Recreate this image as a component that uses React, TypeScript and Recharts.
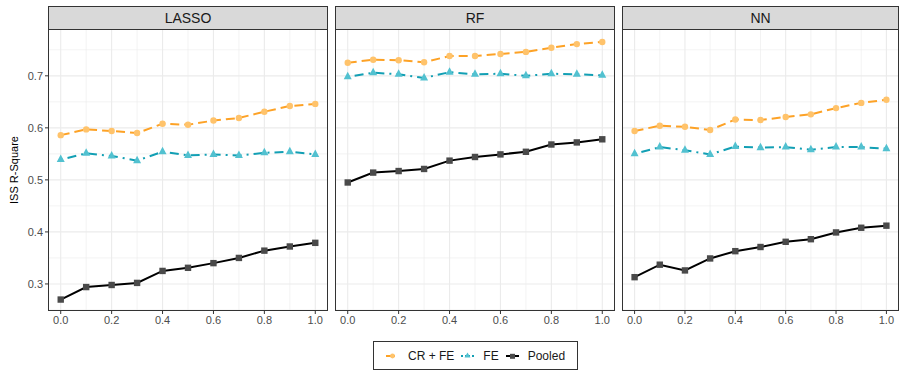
import { CartesianGrid, Line, LineChart, XAxis, YAxis } from "recharts"

// shrinkage weight on the x axis
const weights = [0, 0.1, 0.2, 0.3, 0.4, 0.5, 0.6, 0.7, 0.8, 0.9, 1.0]

const lassoCrFe = [0.586, 0.597, 0.594, 0.590, 0.608, 0.606, 0.614, 0.619, 0.631, 0.642, 0.646]
const lassoFe = [0.539, 0.551, 0.546, 0.537, 0.554, 0.547, 0.549, 0.547, 0.552, 0.554, 0.549]
const lassoPooled = [0.270, 0.294, 0.298, 0.302, 0.325, 0.331, 0.340, 0.350, 0.364, 0.372, 0.379]

const rfCrFe = [0.725, 0.731, 0.730, 0.726, 0.738, 0.738, 0.742, 0.746, 0.754, 0.761, 0.765]
const rfFe = [0.698, 0.706, 0.703, 0.696, 0.707, 0.703, 0.704, 0.700, 0.704, 0.703, 0.701]
const rfPooled = [0.495, 0.514, 0.517, 0.521, 0.537, 0.544, 0.549, 0.554, 0.568, 0.572, 0.578]

const nnCrFe = [0.594, 0.604, 0.602, 0.596, 0.616, 0.615, 0.621, 0.626, 0.638, 0.648, 0.654]
const nnFe = [0.550, 0.563, 0.557, 0.549, 0.564, 0.562, 0.563, 0.558, 0.563, 0.563, 0.560]
const nnPooled = [0.313, 0.337, 0.326, 0.349, 0.363, 0.371, 0.381, 0.386, 0.399, 0.408, 0.412]

const xTicks = [0, 0.2, 0.4, 0.6, 0.8, 1.0]
const xMinor = [0.1, 0.3, 0.5, 0.7, 0.9]
const yTicks = [0.3, 0.4, 0.5, 0.6, 0.7]
const yMinor = [0.25, 0.35, 0.45, 0.55, 0.65, 0.75]

const ORANGE = "#FDA226"
const ORANGE_PT = "#FFC36B"
const TEAL = "#129FB4"
const TEAL_PT = "#52C1D0"
const BLACK = "#000000"
const GREY_PT = "#4A4A4A"

const FONT = "'Liberation Sans', Arial, Helvetica, sans-serif"

const X_DOMAIN = [-0.05, 1.05]
const Y_DOMAIN = [0.248, 0.79]

const PLOT_TOP = 29
const PLOT_BOTTOM = 311
const CHART_H = 340

const buildRows = (cr: number[], fe: number[], pooled: number[]) =>
  weights.map((w, i) => ({ w, cr: cr[i], fe: fe[i], pooled: pooled[i] }))

const panels = [
  { name: "LASSO", left: 48, right: 328, rows: buildRows(lassoCrFe, lassoFe, lassoPooled) },
  { name: "RF", left: 335, right: 615, rows: buildRows(rfCrFe, rfFe, rfPooled) },
  { name: "NN", left: 622, right: 899, rows: buildRows(nnCrFe, nnFe, nnPooled) },
]

const CircleDot = (props: any) => {
  const { cx, cy } = props
  if (cx == null || cy == null) return null
  return <circle cx={cx} cy={cy} r={3.2} fill={ORANGE_PT} />
}

const TriangleDot = (props: any) => {
  const { cx, cy } = props
  if (cx == null || cy == null) return null
  const s = 4
  return <polygon points={`${cx},${cy - s - 1} ${cx - s},${cy + s - 1.5} ${cx + s},${cy + s - 1.5}`} fill={TEAL_PT} />
}

const SquareDot = (props: any) => {
  const { cx, cy } = props
  if (cx == null || cy == null) return null
  return <rect x={cx - 3.2} y={cy - 3.2} width={6.4} height={6.4} fill={GREY_PT} />
}

const tickStyle = { fontSize: 11, fill: "#4D4D4D", fontFamily: FONT }

function Panel({ name, left, right, rows, showY }: any) {
  const yAxisW = showY ? 48 : 0
  const chartLeft = left - yAxisW
  const width = right - chartLeft
  return (
    <>
      <div
        style={{
          position: "absolute",
          left,
          top: 6,
          width: right - left,
          height: PLOT_TOP - 6,
          boxSizing: "border-box",
          background: "#D9D9D9",
          border: "1px solid #333333",
          borderBottom: "none",
          fontFamily: FONT,
          fontSize: 14,
          color: "#1A1A1A",
          textAlign: "center",
          lineHeight: `${PLOT_TOP - 7}px`,
        }}
      >
        {name}
      </div>
      <div style={{ position: "absolute", left: chartLeft, top: 0 }}>
        <LineChart
          width={width}
          height={CHART_H}
          data={rows}
          margin={{ top: PLOT_TOP, right: 0, bottom: CHART_H - PLOT_BOTTOM - 20, left: 0 }}
        >
          <CartesianGrid
            stroke="#EBEBEB"
            strokeWidth={0.6}
            horizontalValues={yMinor}
            verticalValues={xMinor}
          />
          <CartesianGrid
            stroke="#EBEBEB"
            strokeWidth={1.1}
            horizontalValues={yTicks}
            verticalValues={xTicks}
          />
          <XAxis
            dataKey="w"
            type="number"
            domain={X_DOMAIN}
            ticks={xTicks}
            allowDataOverflow
            tickFormatter={(v: number) => v.toFixed(1)}
            tick={tickStyle}
            tickSize={3}
            tickMargin={2}
            axisLine={false}
            tickLine={{ stroke: "#333333" }}
            height={20}
          />
          <YAxis
            type="number"
            domain={Y_DOMAIN}
            ticks={yTicks}
            allowDataOverflow
            hide={!showY}
            width={yAxisW}
            tickFormatter={(v: number) => v.toFixed(1)}
            tick={tickStyle}
            tickSize={3}
            tickMargin={2}
            axisLine={false}
            tickLine={{ stroke: "#333333" }}
            label={
              showY
                ? {
                    value: "ISS R-Square",
                    angle: -90,
                    position: "insideLeft",
                    offset: 14,
                    style: { textAnchor: "middle", fontSize: 11, fill: "#000", fontFamily: FONT },
                  }
                : undefined
            }
          />
          <Line
            dataKey="pooled"
            type="linear"
            stroke={BLACK}
            strokeWidth={2}
            dot={<SquareDot />}
            isAnimationActive={false}
          />
          <Line
            dataKey="fe"
            type="linear"
            stroke={TEAL}
            strokeWidth={2}
            strokeDasharray="2 5 9 5"
            dot={<TriangleDot />}
            isAnimationActive={false}
          />
          <Line
            dataKey="cr"
            type="linear"
            stroke={ORANGE}
            strokeWidth={2}
            strokeDasharray="9 5"
            dot={<CircleDot />}
            isAnimationActive={false}
          />
        </LineChart>
      </div>
      <div
        style={{
          position: "absolute",
          left,
          top: PLOT_TOP,
          width: right - left,
          height: PLOT_BOTTOM - PLOT_TOP,
          boxSizing: "border-box",
          border: "1px solid #333333",
          pointerEvents: "none",
        }}
      />
    </>
  )
}

const legendItems = [
  { label: "CR + FE", color: ORANGE, dash: "9 5", marker: "circle" },
  { label: "FE", color: TEAL, dash: "2 2 5 2", marker: "triangle" },
  { label: "Pooled", color: BLACK, dash: undefined, marker: "square" },
]

function LegendKey({ color, dash, marker }: any) {
  return (
    <svg width={17} height={14} style={{ display: "block" }}>
      <line x1={2} x2={15} y1={7} y2={7} stroke={color} strokeWidth={2} strokeDasharray={dash} />
      {marker === "circle" && <circle cx={8.5} cy={7} r={2.4} fill={ORANGE_PT} />}
      {marker === "triangle" && <polygon points="8.5,3.5 5.5,8.5 11.5,8.5" fill={TEAL_PT} />}
      {marker === "square" && <rect x={6} y={4.8} width={5} height={5} fill={GREY_PT} />}
    </svg>
  )
}

export default function App() {
  return (
    <div
      style={{
        position: "absolute",
        left: 0,
        top: 0,
        width: 900,
        height: 372,
        background: "#FFFFFF",
        overflow: "hidden",
      }}
    >
      {panels.map((p, i) => (
        <Panel key={p.name} {...p} showY={i === 0} />
      ))}
      <div
        style={{
          position: "absolute",
          left: 373,
          top: 341,
          width: 205,
          height: 29,
          boxSizing: "border-box",
          border: "1px solid #333333",
          display: "flex",
          alignItems: "center",
          paddingLeft: 10,
          fontFamily: FONT,
          fontSize: 12,
          color: "#1A1A1A",
          whiteSpace: "nowrap",
        }}
      >
        {legendItems.map((it) => (
          <div key={it.label} style={{ display: "flex", alignItems: "center", marginRight: 5 }}>
            <LegendKey {...it} />
            <span style={{ marginLeft: 7 }}>{it.label}</span>
          </div>
        ))}
      </div>
    </div>
  )
}
